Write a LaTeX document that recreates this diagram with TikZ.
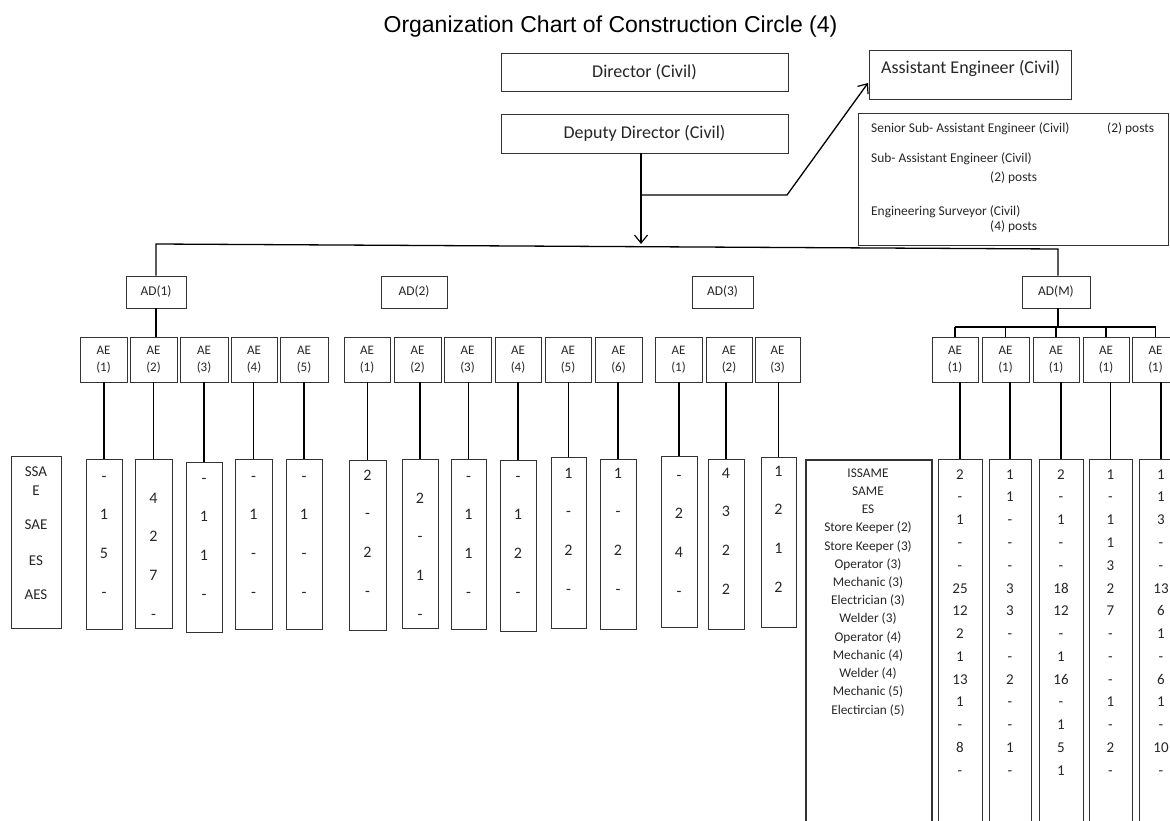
\documentclass[tikz,border=0pt]{standalone}
\usepackage{fontspec}
\setmainfont{Carlito}
\newfontfamily\titlefont{Liberation Sans}
\usetikzlibrary{arrows.meta}

% box given by its corners (x1,y1) and (x2,y2), in pixels, y downwards
\newcommand\rbox[7][]{%
  \node[box,#1, minimum width={#5-#3}, minimum height={#6-#4}] (#2)
    at ({(#3+#5)/2},{(#4+#6)/2}) {#7};}
% column of figures: style, name, x1, y1, x2, y2, first row y, row step, values
\newcommand\figcol[9]{%
  \rbox{#2}{#3}{#4}{#5}{#6}{}%
  \foreach \v [count=\i] in {#9}
    {\node[#1] (#2-\i) at ({(#3+#5)/2},{#7+(\i-1)*#8}) {\v};}}

\begin{document}
\begin{tikzpicture}[x=1pt,y=-1pt,
  box/.style={draw=black!80, line width=0.75pt, inner sep=0pt},
  conn/.style={draw=black, line width=1.3pt},
  tip/.style={-{Straight Barb[length=8pt,width=13pt,line width=1.2pt]}},
  bigtxt/.style={font=\fontsize{18}{22}\selectfont, text=black!85},
  smalltxt/.style={font=\fontsize{13.4}{17}\selectfont, text=black!85, inner sep=0pt,
    text height=0.63em, text depth=0pt},
  aetxt/.style={font=\fontsize{13}{17}\selectfont, text=black!85, align=center},
  leftval/.style={font=\fontsize{16}{18}\selectfont, text=black!85, inner sep=0pt,
    text height=0.63em, text depth=0pt},
  rightval/.style={font=\fontsize{15}{18}\selectfont, text=black!85, inner sep=0pt,
    text height=0.63em, text depth=0pt},
  lbl/.style={font=\fontsize{15}{18}\selectfont, text=black!85, inner sep=0pt,
    text height=0.63em, text depth=0pt},
  rlbl/.style={font=\fontsize{13.3}{17}\selectfont, text=black!85, inner sep=0pt,
    text height=0.63em, text depth=0pt},
]
\useasboundingbox (0,0) rectangle (1170,821);
\clip (0,0) rectangle (1170,821);

% heading
\node[font=\titlefont\fontsize{23}{27}\selectfont, anchor=base] (title)
  at (610.5,33) {Organization Chart of Construction Circle (4)};

% top posts
\rbox[bigtxt]{dir}{501}{53}{788}{91}{Director (Civil)}
\rbox[bigtxt]{dep}{501}{114}{788}{153}{Deputy Director (Civil)}
\rbox{aec}{869}{50}{1071}{99}{}
\node[bigtxt, anchor=west, inner sep=0pt] (aectext) at (881,68) {Assistant Engineer (Civil)};

\rbox{posts}{858}{113}{1168}{245}{}
\node[smalltxt, anchor=west] (p1) at (871,129) {Senior Sub- Assistant Engineer (Civil)};
\node[smalltxt, anchor=west] (p1n) at (1107,129) {(2) posts};
\node[smalltxt, anchor=west] (p2) at (871,159) {Sub- Assistant Engineer (Civil)};
\node[smalltxt, anchor=west] (p2n) at (990,178) {(2) posts};
\node[smalltxt, anchor=west] (p3) at (871,212) {Engineering Surveyor (Civil)};
\node[smalltxt, anchor=west] (p3n) at (990,227) {(4) posts};

% connectors from the deputy director
\coordinate (arrtip) at (641,244);
\coordinate (brk0) at (641,195);
\coordinate (brk) at (787,195);
\coordinate (aectip) at (868,83);
\draw[conn, tip] (dep.south -| arrtip) -- (arrtip);
\draw[conn, tip] (brk0) -- (brk) -- (aectip);

% assistant directors
\rbox[smalltxt, inner sep=0pt]{ad1}{126}{276}{186}{308}{AD(1)}
\rbox[smalltxt, inner sep=0pt]{ad2}{381}{276}{447}{308}{AD(2)}
\rbox[smalltxt, inner sep=0pt]{ad3}{692}{276}{753}{308}{AD(3)}
\rbox[smalltxt, inner sep=0pt]{adM}{1022}{276}{1090}{308}{AD(M)}

\coordinate (busL) at (156,244);
\coordinate (busR) at (1058,249);
\draw[conn] (ad1.north) -- (busL) -- (busR) -- (busR |- adM.north);

% assistant engineers
\foreach \n/\a/\b/\t in {1/80/127/1, 2/130/177/2, 3/180/228/3, 4/231/277/4, 5/280/328/5}
  {\rbox[aetxt]{aeA\n}{\a}{337}{\b}{382}{AE\\(\t)}}
\foreach \n/\a/\b/\t in {1/344/390/1, 2/394/441/2, 3/444/491/3, 4/495/541/4, 5/545/591/5, 6/595/642/6}
  {\rbox[aetxt]{aeB\n}{\a}{337}{\b}{382}{AE\\(\t)}}
\foreach \n/\a/\b/\t in {1/655/702/1, 2/706/752/2, 3/755/800/3}
  {\rbox[aetxt]{aeC\n}{\a}{337}{\b}{382}{AE\\(\t)}}
\foreach \n/\a/\b in {1/932/978, 2/982/1029, 3/1033/1079, 4/1083/1129, 5/1132/1179}
  {\rbox[aetxt]{aeM\n}{\a}{337}{\b}{382}{AE\\(1)}}

\draw[conn] (ad1.south) -- (ad1.south |- aeA2.north);
\coordinate (mbus) at (1058,327);
\draw[conn] (busR |- adM.south) -- (mbus);
\draw[conn] (aeM1.north |- mbus) -- (aeM5.north |- mbus);
\foreach \n in {1,...,5} {\draw[conn] (aeM\n.north |- mbus) -- (aeM\n.north);}

% sanctioned posts under each assistant engineer
\rbox{lblA}{11}{456}{61}{628}{}
\node[lbl] (lA1) at (36,473) {SSA};
\node[lbl] (lA2) at (36,492) {E};
\node[lbl] (lA3) at (36,526) {SAE};
\node[lbl] (lA4) at (36,562) {ES};
\node[lbl] (lA5) at (36,596) {AES};

\figcol{leftval}{dA1}{86}{459}{122}{629}{478}{38.7}{-,1,5,-}
\figcol{leftval}{dA2}{135}{459}{172}{628}{500}{38.7}{4,2,7,-}
\figcol{leftval}{dA3}{186}{462}{222}{632}{480}{38.7}{-,1,1,-}
\figcol{leftval}{dA4}{235}{459}{272}{629}{478}{38.7}{-,1,-,-}
\figcol{leftval}{dA5}{286}{459}{322}{629}{478}{38.7}{-,1,-,-}

\figcol{leftval}{dB1}{349}{460}{386}{630}{477}{38.7}{2,-,2,-}
\figcol{leftval}{dB2}{402}{459}{438}{628}{500}{38.7}{2,-,1,-}
\figcol{leftval}{dB3}{451}{459}{486}{629}{478}{38.7}{-,1,1,-}
\figcol{leftval}{dB4}{500}{460}{536}{631}{478}{38.7}{-,1,2,-}
\figcol{leftval}{dB5}{551}{457}{586}{628}{475}{38.7}{1,-,2,-}
\figcol{leftval}{dB6}{600}{459}{636}{629}{475}{38.7}{1,-,2,-}

\figcol{leftval}{dC1}{661}{456}{697}{627}{477}{38.7}{-,2,4,-}
\figcol{leftval}{dC2}{708}{459}{744}{629}{475}{38.7}{4,3,2,2}
\figcol{leftval}{dC3}{761}{457}{796}{627}{473}{38.7}{1,2,1,2}

\foreach \n in {1,...,5} {\draw[conn] (dA\n.north) -- (dA\n.north |- aeA\n.south);}
\foreach \n in {1,...,6} {\draw[conn] (dB\n.north) -- (dB\n.north |- aeB\n.south);}
\foreach \n in {1,...,3} {\draw[conn] (dC\n.north) -- (dC\n.north |- aeC\n.south);}

% mechanical wing
\rbox[line width=1.8pt]{lblM}{806}{460}{932}{840}{}
\foreach \t [count=\i] in {ISSAME, SAME, ES, Store Keeper (2), Store Keeper (3),
    Operator (3), Mechanic (3), Electrician (3), Welder (3), Operator (4),
    Mechanic (4), Welder (4), Mechanic (5), Electircian (5)}
  {\node[rlbl] (lM\i) at (868,{474+(\i-1)*18.23}) {\t};}

\figcol{rightval}{dM1}{938}{459}{982}{840}{476}{22.77}{2,-,1,-,-,25,12,2,1,13,1,-,8,-}
\figcol{rightval}{dM2}{989}{459}{1031}{840}{476}{22.77}{1,1,-,-,-,3,3,-,-,2,-,-,1,-}
\figcol{rightval}{dM3}{1039}{459}{1083}{840}{476}{22.77}{2,-,1,-,-,18,12,-,1,16,-,1,5,1}
\figcol{rightval}{dM4}{1089}{459}{1132}{840}{476}{22.77}{1,-,1,1,3,2,7,-,-,-,1,-,2,-}
\figcol{rightval}{dM5}{1139}{459}{1183}{840}{476}{22.77}{1,1,3,-,-,13,6,1,-,6,1,-,10,-}

\foreach \n in {1,...,5} {\draw[conn] (dM\n.north) -- (dM\n.north |- aeM\n.south);}
\end{tikzpicture}
\end{document}
